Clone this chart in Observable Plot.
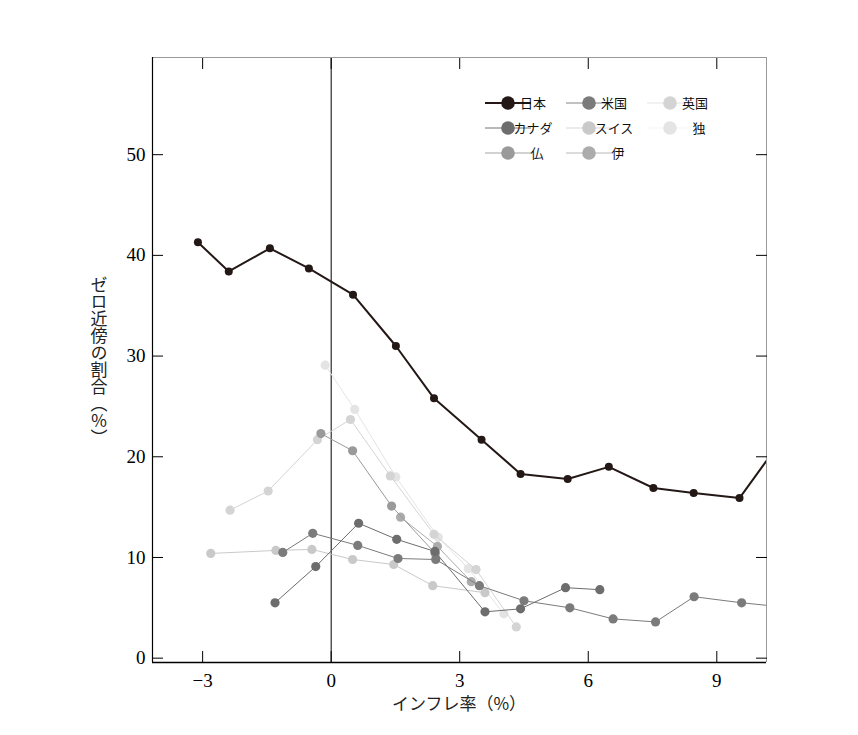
<!DOCTYPE html>
<html><head><meta charset="utf-8">
<script src="https://cdn.jsdelivr.net/npm/d3@7"></script>
<script src="https://cdn.jsdelivr.net/npm/@observablehq/plot@0.6"></script>
<style>body{margin:0;background:#fff}</style>
</head><body><div id="chart"></div>
<script>
// legend order
const countries = ["日本", "米国", "英国", "カナダ", "スイス", "独", "仏", "伊"];
const colors = ["#231815", "#7b7b7b", "#d4d4d4", "#6d6d6d", "#c9c9c9", "#e4e4e4", "#9a9a9a", "#acacac"];

// series (inflation %, share of near-zero %)
const jpX = [-3.11, -2.39, -1.43, -0.52, 0.51, 1.51, 2.40, 3.51, 4.42, 5.52, 6.48, 7.52, 8.46, 9.53, 10.5];
const jpY = [41.3, 38.4, 40.7, 38.7, 36.1, 31.0, 25.8, 21.7, 18.3, 17.8, 19.0, 16.9, 16.4, 15.9, 21.6];
const usX = [-1.13, -0.43, 0.62, 1.56, 2.44, 3.46, 4.50, 5.57, 6.58, 7.57, 8.47, 9.58, 10.5];
const usY = [10.5, 12.4, 11.2, 9.9, 9.8, 7.2, 5.7, 5.0, 3.9, 3.6, 6.1, 5.5, 5.1];
const ukX = [-2.36, -1.47, -0.32, 0.45, 1.38, 2.40, 3.38, 4.32];
const ukY = [14.7, 16.6, 21.7, 23.7, 18.1, 12.3, 8.8, 3.1];
const caX = [-1.31, -0.36, 0.64, 1.53, 2.42, 3.59, 4.42, 5.47, 6.27];
const caY = [5.5, 9.1, 13.4, 11.8, 10.6, 4.6, 4.9, 7.0, 6.8];
const chX = [-2.81, -1.29, -0.45, 0.50, 1.46, 2.37, 3.59];
const chY = [10.4, 10.7, 10.8, 9.8, 9.3, 7.2, 6.5];
const deX = [-0.14, 0.55, 1.51, 2.50, 3.20, 4.03];
const deY = [29.1, 24.7, 18.0, 12.0, 8.9, 4.4];
const frX = [-0.24, 0.50, 1.41, 2.43];
const frY = [22.3, 20.6, 15.1, 10.4];
const itX = [1.62, 2.48, 3.27];
const itY = [14.0, 11.1, 7.6];

const xTicks = [-3, 0, 3, 6, 9];
const yTicks = [0, 10, 20, 30, 40, 50];
const xDomain = [-4.17, 10.16];
const yDomain = [-0.43, 59.65];

const xTitle = "インフレ率（%）";
const yTitle = "ゼロ近傍の割合（％）";

const seriesX = {"日本": jpX, "米国": usX, "英国": ukX, "カナダ": caX, "スイス": chX, "独": deX, "仏": frX, "伊": itX};
const seriesY = {"日本": jpY, "米国": usY, "英国": ukY, "カナダ": caY, "スイス": chY, "独": deY, "仏": frY, "伊": itY};
const color = Object.fromEntries(countries.map((c, i) => [c, colors[i]]));
const drawOrder = ["独", "英国", "スイス", "伊", "仏", "米国", "カナダ", "日本"];

const rows = c => seriesX[c].map((x, i) => ({country: c, x, y: seriesY[c][i]}));

const seriesMarks = drawOrder.flatMap(c => {
  const isJp = c === "日本";
  return [
    Plot.line(rows(c), {x: "x", y: "y", stroke: color[c], strokeWidth: isJp ? 2 : 1, clip: true}),
    Plot.dot(rows(c), {x: "x", y: "y", fill: color[c], r: isJp ? 4 : 4.6, clip: true})
  ];
});

const plot = Plot.plot({
  width: 858,
  height: 735,
  marginLeft: 152,
  marginRight: 92,
  marginTop: 57,
  marginBottom: 73,
  x: {domain: xDomain, label: null},
  y: {domain: yDomain, label: null},
  style: {fontFamily: "'Liberation Serif', serif", fontSize: "19px", background: "#fff", color: "#000", overflow: "visible"},
  marks: [
    Plot.ruleX([0], {stroke: "#000", strokeWidth: 1}),
    ...seriesMarks,
    Plot.ruleY([yDomain[1]], {stroke: "#999"}),
    Plot.ruleX([xDomain[1]], {stroke: "#999"}),
    Plot.ruleY([yDomain[0]], {stroke: "#000", strokeWidth: 1.4}),
    Plot.ruleX([xDomain[0]], {stroke: "#000", strokeWidth: 1.2}),
    Plot.axisX(xTicks, {anchor: "bottom", tickSize: -11, tickPadding: 22, label: null}),
    Plot.axisX(xTicks, {anchor: "top", tickSize: -11, tickFormat: () => "", label: null}),
    Plot.axisY(yTicks, {anchor: "left", tickSize: -11, tickPadding: 18, label: null}),
    Plot.axisY(yTicks, {anchor: "right", tickSize: -11, tickFormat: () => "", label: null})
  ]
});

document.getElementById("chart").appendChild(plot);

const svg = d3.select(plot);
const sx = plot.scale("x"), sy = plot.scale("y");
const cx = (sx.range[0] + sx.range[1]) / 2;
const cy = (sy.range[0] + sy.range[1]) / 2;
const sans = "'Noto Sans CJK JP', 'Noto Sans', sans-serif";

// axis titles
svg.append("text")
  .attr("x", cx).attr("y", 710)
  .attr("text-anchor", "middle")
  .style("font-family", sans).style("font-size", "17px").attr("fill", "#222")
  .text(xTitle);
svg.append("text")
  .attr("x", 99).attr("y", cy + 2)
  .attr("text-anchor", "middle")
  .style("writing-mode", "vertical-rl")
  .style("font-family", sans).style("font-size", "17px").attr("fill", "#222")
  .text(yTitle);

// legend (3 columns x 3 rows)
const colStart = [485, 566, 647];
const rowY = [103, 128, 153];
const lg = svg.append("g").style("font-family", sans).style("font-size", "13px");
countries.forEach((c, i) => {
  const col = i % 3, row = Math.floor(i / 3);
  const x0 = colStart[col], y0 = rowY[row];
  const isJp = c === "日本";
  lg.append("line").attr("x1", x0).attr("x2", x0 + 46).attr("y1", y0).attr("y2", y0)
    .attr("stroke", isJp ? color[c] : d3.color(color[c]).brighter(0.2)).attr("stroke-width", isJp ? 2 : 1);
  lg.append("circle").attr("cx", x0 + 23).attr("cy", y0).attr("r", 6.8).attr("fill", color[c]);
  lg.append("text").attr("x", x0 + 48 + (c.length === 1 ? 4 : 0)).attr("y", y0).attr("dy", "0.36em")
    .attr("fill", "#111").text(c);
});
</script>
</body></html>
